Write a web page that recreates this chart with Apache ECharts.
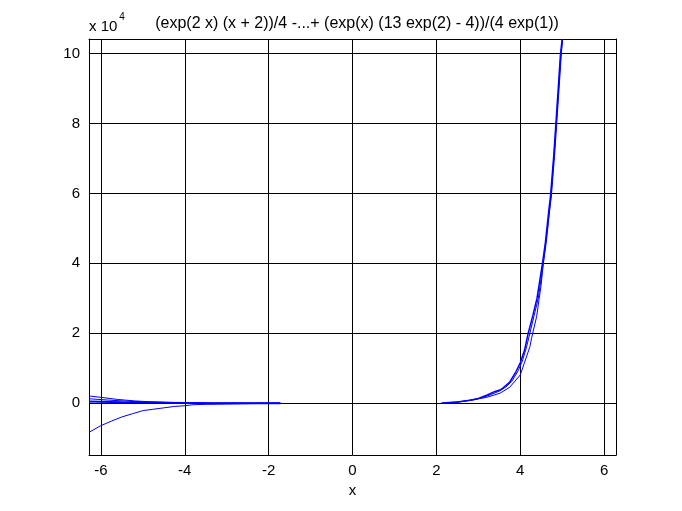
<!DOCTYPE html>
<html>
<head>
<meta charset="utf-8">
<script src="https://cdn.jsdelivr.net/npm/echarts@6/dist/echarts.min.js"></script>
<style>html,body{margin:0;padding:0;background:#fff}#c{width:682px;height:511px}</style>
</head>
<body>
<div id="c"></div>
<script>
// values in units of 1e4 (axis shows "x 10^4")
const titleText = "(exp(2 x) (x + 2))/4 -...+ (exp(x) (13 exp(2) - 4))/(4 exp(1))";
const xTicks = [-6, -4, -2, 0, 2, 4, 6];
const yTicks = [0, 2, 4, 6, 8, 10];
const xRange = [-6.2832, 6.2832];
const yRange = [-1.49, 10.42];

// left branch going negative
const leftLowX = [-6.283, -6.25, -6.0, -5.75, -5.5, -5.25, -5.0, -4.75, -4.5, -4.25, -4.0, -3.8, -3.5, -3.0, -2.5, -2.0, -1.72];
const leftLowY = [-0.84, -0.8, -0.65, -0.52, -0.40, -0.31, -0.22, -0.18, -0.14, -0.10, -0.08, -0.05, -0.04, -0.03, -0.02, -0.01, -0.01];
// left near-zero branches
const leftUp1X = [-6.283, -6.0, -5.6, -5.2, -4.8, -4.2, -3.5];
const leftUp1Y = [0.20, 0.16, 0.10, 0.06, 0.03, 0.01, 0.0];
const leftUp2X = [-6.283, -5.8, -5.2, -4.5, -3.5, -2.5, -1.72];
const leftUp2Y = [0.12, 0.08, 0.04, 0.015, 0.0, 0.0, 0.0];
const leftUp3X = [-6.283, -5.5, -4.0, -3.0, -1.72];
const leftUp3Y = [0.04, 0.02, 0.0, -0.01, -0.01];
// right rising branches
const rightAX = [2.12, 2.5, 2.8, 3.0, 3.2, 3.4, 3.52, 3.6, 3.75, 3.9, 4.0, 4.1, 4.19, 4.3, 4.4, 4.53, 4.6, 4.68, 4.72, 4.8, 4.85, 4.9, 4.96, 5.0];
const rightAY = [0.0, 0.03, 0.08, 0.13, 0.22, 0.33, 0.37, 0.44, 0.6, 0.9, 1.15, 1.5, 2.0, 2.5, 3.0, 4.0, 4.6, 5.5, 5.9, 7.1, 8.0, 8.9, 10.0, 10.42];
const rightCX = [2.2, 2.6, 2.9, 3.1, 3.3, 3.5, 3.65, 3.8, 3.95, 4.05, 4.15, 4.23, 4.33, 4.43, 4.55, 4.62, 4.7, 4.74, 4.82, 4.87, 4.92, 4.98, 5.01];
const rightCY = [0.0, 0.04, 0.09, 0.15, 0.24, 0.34, 0.45, 0.62, 0.92, 1.2, 1.6, 2.0, 2.5, 3.0, 4.0, 4.6, 5.5, 5.9, 7.1, 8.0, 8.9, 10.0, 10.42];
const rightBX = [2.4, 2.9, 3.2, 3.52, 3.75, 4.0, 4.1, 4.23, 4.27, 4.39, 4.5, 4.55, 4.65, 4.74, 4.86, 4.97, 5.01];
const rightBY = [0.0, 0.1, 0.16, 0.28, 0.45, 0.8, 1.15, 1.61, 1.85, 2.47, 3.4, 4.0, 5.0, 6.0, 8.0, 10.0, 10.42];

function pairs(xs, ys){ return xs.map((x,i)=>[x, ys[i]]); }

const chart = echarts.init(document.getElementById('c'));
const FONT = 'Liberation Sans';
const lineSeries = (xs, ys, w) => ({
  type: 'line', data: pairs(xs, ys), showSymbol: false, symbol: 'none',
  lineStyle: { color: '#0000ff', width: w }, animation: false, clip: true
});
const axisCommon = {
  axisLine: { show: true, onZero: false, lineStyle: { color: '#000', width: 1 } },
  splitLine: { show: true, lineStyle: { color: '#000', width: 1 } }
};
chart.setOption({
  animation: false,
  backgroundColor: '#fff',
  grid: { left: 89, right: 66, top: 39, bottom: 56, containLabel: false },
  title: {
    text: titleText, left: 352, top: 11, textAlign: 'center',
    textStyle: { fontFamily: FONT, fontSize: 16, fontWeight: 'normal', color: '#000' }
  },
  graphic: [{
    type: 'text', left: 89, top: 12,
    style: {
      text: '{a|x 10}{b|4}', fill: '#000',
      rich: {
        a: { fontFamily: FONT, fontSize: 15, fill: '#000', verticalAlign: 'bottom', padding: [7,0,0,0] },
        b: { fontFamily: FONT, fontSize: 10, fill: '#000', verticalAlign: 'top', padding: [0,0,7,2] }
      }
    }
  }],
  xAxis: [{
    type: 'value', min: xRange[0], max: xRange[1], position: 'bottom',
    name: 'x', nameLocation: 'middle', nameGap: 25,
    nameTextStyle: { fontFamily: FONT, fontSize: 15, color: '#000' },
    ...axisCommon,
    axisTick: { show: true, inside: true, length: 5, customValues: xTicks, lineStyle: { color: '#000' } },
    axisLabel: { customValues: xTicks, fontFamily: FONT, fontSize: 15, color: '#000', margin: 8 }
  }, {
    type: 'value', min: xRange[0], max: xRange[1], position: 'top',
    axisLine: { show: true, onZero: false, lineStyle: { color: '#000' } },
    splitLine: { show: false }, axisTick: { show: false }, axisLabel: { show: false }
  }],
  yAxis: [{
    type: 'value', min: yRange[0], max: yRange[1], position: 'left',
    ...axisCommon,
    axisTick: { show: true, inside: true, length: 5, customValues: yTicks, lineStyle: { color: '#000' } },
    axisLabel: { customValues: yTicks, fontFamily: FONT, fontSize: 15, color: '#000', margin: 9 }
  }, {
    type: 'value', min: yRange[0], max: yRange[1], position: 'right',
    axisLine: { show: true, onZero: false, lineStyle: { color: '#000' } },
    splitLine: { show: false }, axisTick: { show: false }, axisLabel: { show: false }
  }],
  series: [
    lineSeries(leftLowX, leftLowY, 1),
    lineSeries(leftUp1X, leftUp1Y, 1),
    lineSeries(leftUp2X, leftUp2Y, 1),
    lineSeries(leftUp3X, leftUp3Y, 2),
    lineSeries(rightAX, rightAY, 1.5),
    lineSeries(rightCX, rightCY, 1),
    lineSeries(rightBX, rightBY, 1)
  ]
});
</script>
</body>
</html>
